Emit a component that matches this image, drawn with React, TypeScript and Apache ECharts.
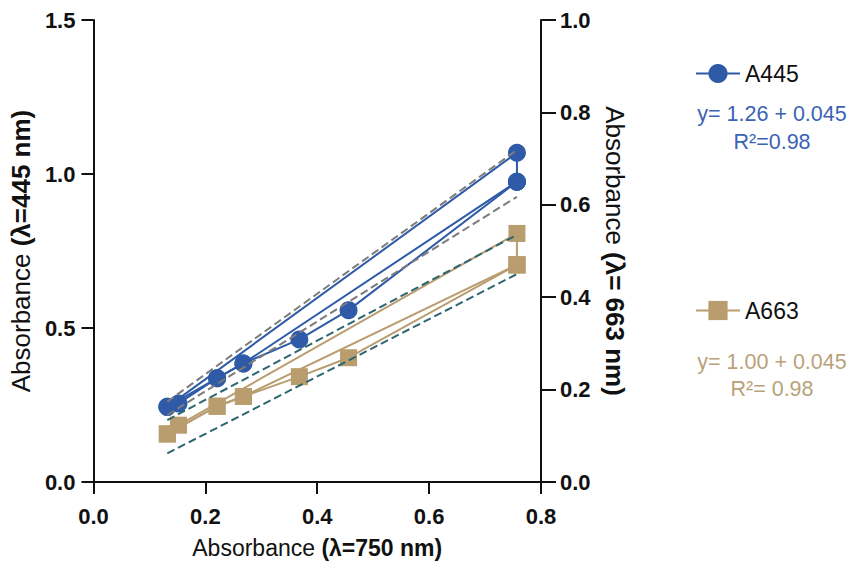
import React, { useEffect, useRef } from "react";
import * as echarts from "echarts";

// Tick labels of the x axis (absorbance at 750 nm)
const xTicks = ["0.0", "0.2", "0.4", "0.6", "0.8"];

// A445 replicates (left axis)
const a445Rep1X = [0.132, 0.757, 0.757];
const a445Rep1Y = [0.244, 1.069, 0.975];
const a445Rep2X = [0.152, 0.221, 0.268, 0.757];
const a445Rep2Y = [0.255, 0.337, 0.385, 0.975];
const a445Rep3X = [0.132, 0.221, 0.268, 0.368, 0.456, 0.757];
const a445Rep3Y = [0.244, 0.337, 0.385, 0.463, 0.558, 0.975];

// A663 replicates (right axis)
const a663Rep1X = [0.152, 0.757, 0.757];
const a663Rep1Y = [0.123, 0.538, 0.47];
const a663Rep2X = [0.132, 0.221, 0.268, 0.757];
const a663Rep2Y = [0.104, 0.164, 0.185, 0.47];
const a663Rep3X = [0.132, 0.221, 0.268, 0.368, 0.456, 0.757];
const a663Rep3Y = [0.104, 0.164, 0.185, 0.228, 0.269, 0.47];

// Confidence band lines
const bandX = [0.132, 0.757];
const grayUpperY = [0.261, 1.078];
const grayLowerY = [0.2175, 0.926];
const tealUpperY = [0.134, 0.535];
const tealLowerY = [0.062, 0.45];

const eq445 = ["y= 1.26 + 0.045", "R²=0.98"];
const eq663 = ["y= 1.00 + 0.045", "R²= 0.98"];

const BLUE = "#2e5aa7";
const TAN = "#b99d6f";
const GRAY = "#7c7c7c";
const TEAL = "#2d6670";
const FONT = "'Liberation Sans', Arial, Helvetica, sans-serif";

const zip = (xs: number[], ys: number[]) => xs.map((x, i) => [x, ys[i]]);

export default function App() {
  const ref = useRef<HTMLDivElement>(null);
  useEffect(() => {
    if (!ref.current) return;
    const chart = echarts.init(ref.current, undefined, { renderer: "svg" });

    const dashed = (name: string, ys: number[], color: string, yIdx: number) => ({
      name,
      type: "line",
      yAxisIndex: yIdx,
      data: zip(bandX, ys),
      showSymbol: false,
      symbol: "none",
      lineStyle: { color, width: 2, type: [8, 4] },
      z: 3,
    });

    const rep = (name: string, xs: number[], ys: number[], color: string, yIdx: number, symbol: string, size: number) => ({
      name,
      type: "line",
      yAxisIndex: yIdx,
      data: zip(xs, ys),
      symbol,
      symbolSize: size,
      itemStyle: { color, opacity: 1 },
      lineStyle: { color, width: 2 },
      z: 2,
    });

    const axisLabel = {
      fontFamily: FONT,
      fontSize: 22,
      fontWeight: "bold",
      color: "#111",
    };
    const axisLine = { show: true, lineStyle: { color: "#111", width: 2 } };
    const tick = (len: number) => ({ show: true, inside: false, length: len, lineStyle: { color: "#111", width: 2 } });
    const richName = (size: number) => ({
      n: { fontFamily: FONT, fontSize: size, fontWeight: "normal", color: "#111" },
      b: { fontFamily: FONT, fontSize: size, fontWeight: "bold", color: "#111" },
    });

    chart.setOption({
      animation: false,
      backgroundColor: "#fff",
      grid: { left: 93, right: 312, top: 20, bottom: 82, containLabel: false },
      xAxis: {
        type: "value",
        min: 0,
        max: 0.8,
        interval: 0.2,
        axisLine,
        axisTick: tick(12),
        splitLine: { show: false },
        axisLabel: { ...axisLabel, margin: 23, formatter: (v: number) => xTicks[Math.round(v / 0.2)] ?? v.toFixed(1) },
        name: "{n|Absorbance }{b|(λ=750 nm)}",
        nameLocation: "middle",
        nameGap: 54,
        nameTextStyle: { rich: richName(23) },
      },
      yAxis: [
        {
          type: "value",
          position: "left",
          min: 0,
          max: 1.5,
          interval: 0.5,
          axisLine,
          axisTick: tick(12),
          splitLine: { show: false },
          axisLabel: { ...axisLabel, margin: 18, formatter: (v: number) => v.toFixed(1) },
          name: "{n|Absorbance }{b|(λ=445 nm)}",
          nameLocation: "middle",
          nameGap: 56,
          nameRotate: 90,
          nameTextStyle: { rich: richName(26) },
        },
        {
          type: "value",
          position: "right",
          min: 0,
          max: 1.0,
          interval: 0.2,
          axisLine,
          axisTick: tick(15),
          splitLine: { show: false },
          axisLabel: { ...axisLabel, margin: 19, formatter: (v: number) => v.toFixed(1) },
          name: "{n|Absorbance }{b|(λ= 663 nm)}",
          nameLocation: "middle",
          nameGap: 61,
          nameRotate: -90,
          nameTextStyle: { rich: richName(26) },
        },
      ],
      legend: [
        {
          data: ["A445"],
          left: 690,
          top: 57,
          itemWidth: 44,
          itemHeight: 24,
          itemGap: 6,
          textStyle: { fontFamily: FONT, fontSize: 23, color: "#111" },
          selectedMode: false,
        },
        {
          data: ["A663"],
          left: 690,
          top: 294,
          itemWidth: 44,
          itemHeight: 24,
          itemGap: 6,
          textStyle: { fontFamily: FONT, fontSize: 23, color: "#111" },
          selectedMode: false,
        },
      ],
      graphic: [
        { type: "text", x: 772, y: 114, style: { text: eq445[0], fill: "#3b63b5", font: `21.5px ${FONT}`, align: "center", verticalAlign: "middle" } },
        { type: "text", x: 772, y: 142, style: { text: eq445[1], fill: "#3b63b5", font: `21.5px ${FONT}`, align: "center", verticalAlign: "middle" } },
        { type: "text", x: 772, y: 362, style: { text: eq663[0], fill: "#b9a27a", font: `21.5px ${FONT}`, align: "center", verticalAlign: "middle" } },
        { type: "text", x: 772, y: 389, style: { text: eq663[1], fill: "#b9a27a", font: `21.5px ${FONT}`, align: "center", verticalAlign: "middle" } },
      ],
      series: [
        dashed("bandGrayU", grayUpperY, GRAY, 0),
        dashed("bandGrayL", grayLowerY, GRAY, 0),
        dashed("bandTealU", tealUpperY, TEAL, 1),
        dashed("bandTealL", tealLowerY, TEAL, 1),
        rep("A663", a663Rep1X, a663Rep1Y, TAN, 1, "rect", 17),
        rep("A663", a663Rep2X, a663Rep2Y, TAN, 1, "rect", 17),
        rep("A663", a663Rep3X, a663Rep3Y, TAN, 1, "rect", 17),
        rep("A445", a445Rep1X, a445Rep1Y, BLUE, 0, "circle", 18),
        rep("A445", a445Rep2X, a445Rep2Y, BLUE, 0, "circle", 18),
        rep("A445", a445Rep3X, a445Rep3Y, BLUE, 0, "circle", 18),
      ],
    });
    return () => chart.dispose();
  }, []);
  return <div ref={ref} style={{ width: 853, height: 564, position: "absolute", left: 0, top: 0 }} />;
}
